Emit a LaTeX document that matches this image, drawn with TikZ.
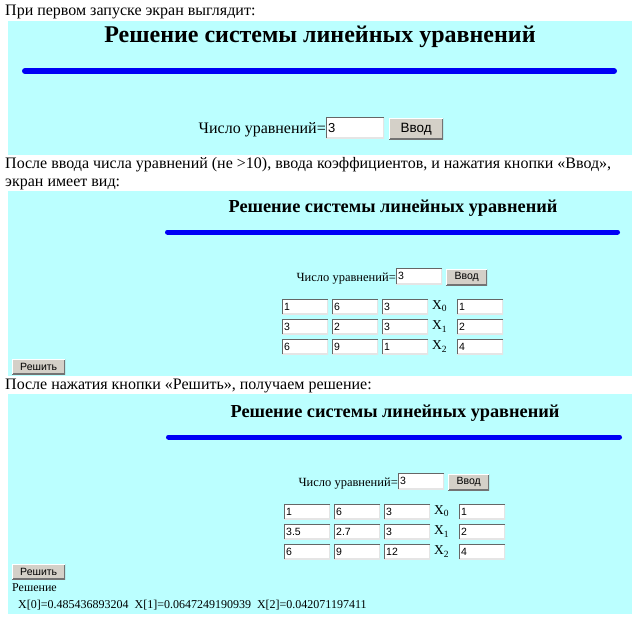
\documentclass[tikz,border=0pt]{standalone}
\usepackage{fontspec}
\setmainfont{Liberation Serif}
\newfontfamily\sansf{Liberation Sans}
\definecolor{panelbg}{RGB}{187,255,255}
\definecolor{btnface}{RGB}{212,208,200}
\definecolor{rulecol}{RGB}{0,0,245}
\tikzset{
  fsz/.style={font=\fontsize{#1}{#1}\selectfont},
  txt/.style={anchor=base west, inner sep=0pt},
  panel/.style={fill=panelbg, anchor=north west, inner sep=0pt},
  bluerule/.style={draw=rulecol, line cap=round},
  inbox/.style={fill=white, inner xsep=2pt, inner ysep=0pt, anchor=north west, align=left,
    path picture={
      \draw[line width=1.5pt, draw=black!10] (path picture bounding box.south west) -| (path picture bounding box.north east);
      \draw[line width=2.5pt, draw=black!60] (path picture bounding box.south west) |- (path picture bounding box.north east);}},
  btn/.style={fill=btnface, inner sep=0pt, anchor=north west,
    path picture={
      \draw[line width=2.5pt, draw=black!55] (path picture bounding box.south west) -| (path picture bounding box.north east);
      \draw[line width=1.5pt, draw=white] (path picture bounding box.south west) |- (path picture bounding box.north east);}},
  gbox/.style={inbox, text width=42pt, minimum height=15pt, font=\sansf\fontsize{10.5}{10.5}\selectfont},
  xlab/.style={anchor=west, inner sep=0pt, font=\fontsize{13.5}{13.5}\selectfont},
}
\newcommand{\xsub}[1]{X\raisebox{-0.35ex}{\fontsize{9.5}{9.5}\selectfont #1}}
\begin{document}
\begin{tikzpicture}[x=1pt,y=-1pt]
\useasboundingbox (0,0) rectangle (639,618);
\fill[white] (0,0) rectangle (639,618);

% intro texts
\node[txt, fsz=16] (t1) at (5,16) {При первом запуске экран выглядит:};
\node[txt, fsz=16] (t2) at (5,168) {После ввода числа уравнений (не >10), ввода коэффициентов, и нажатия кнопки «Ввод»,};
\node[txt, fsz=16] (t3) at (5,186) {экран имеет вид:};
\node[txt, fsz=16] (t4) at (5,389) {После нажатия кнопки «Решить», получаем решение:};

% ---------- panel 1 ----------
\node[panel, minimum width=624pt, minimum height=134pt] (p1) at (8,21) {};
\node[anchor=base, inner sep=0pt, font=\bfseries\fontsize{24}{24}\selectfont] (p1title) at (320,43) {Решение системы линейных уравнений};
\draw[bluerule, line width=6pt] (25,71) -- (614,71);
\node[anchor=base east, inner sep=0pt, fsz=16] (p1lab) at (326,133) {Число уравнений=};
\node[inbox, text width=54pt, minimum height=21pt, font=\sansf\fontsize{13}{13}\selectfont] (p1in) at (326,117) {3};
\node[btn, minimum width=54pt, minimum height=21pt, font=\sansf\fontsize{13.5}{13.5}\selectfont] (p1btn) at (389,118) {Ввод};

% ---------- panel 2 ----------
\node[panel, minimum width=624pt, minimum height=185pt] (p2) at (8,191) {};
\node[anchor=base, inner sep=0pt, font=\bfseries\fontsize{18.3}{18.3}\selectfont] (p2title) at (393,212) {Решение системы линейных уравнений};
\draw[bluerule, line width=5pt] (167.5,232) -- (617.5,232);
\node[anchor=base east, inner sep=0pt, fsz=12.5] (p2lab) at (396,281) {Число уравнений=};
\node[inbox, text width=42pt, minimum height=16pt, font=\sansf\fontsize{10.5}{10.5}\selectfont] (p2in) at (396,268) {3};
\node[btn, minimum width=41pt, minimum height=16pt, font=\sansf\fontsize{10.5}{10.5}\selectfont] (p2btn) at (446,269) {Ввод};
\foreach \r/\y/\a/\b/\c/\d in {0/299/1/6/3/1, 1/319/3/2/3/2, 2/339/6/9/1/4} {
  \node[gbox] (p2a\r) at (282,\y) {\a};
  \node[gbox] (p2b\r) at (332,\y) {\b};
  \node[gbox] (p2c\r) at (382,\y) {\c};
  \node[xlab] (p2x\r) at (432,\y+7.5) {\xsub{\r}};
  \node[gbox] (p2d\r) at (457,\y) {\d};
}
\node[btn, minimum width=53pt, minimum height=15pt, font=\sansf\fontsize{10.5}{10.5}\selectfont] (p2solve) at (12,359) {Решить};

% ---------- panel 3 ----------
\node[panel, minimum width=624pt, minimum height=220pt] (p3) at (8,394) {};
\node[anchor=base, inner sep=0pt, font=\bfseries\fontsize{18.3}{18.3}\selectfont] (p3title) at (395,417) {Решение системы линейных уравнений};
\draw[bluerule, line width=5pt] (168.5,437) -- (619.5,437);
\node[anchor=base east, inner sep=0pt, fsz=12.5] (p3lab) at (398,486) {Число уравнений=};
\node[inbox, text width=42pt, minimum height=16pt, font=\sansf\fontsize{10.5}{10.5}\selectfont] (p3in) at (398,473) {3};
\node[btn, minimum width=41pt, minimum height=16pt, font=\sansf\fontsize{10.5}{10.5}\selectfont] (p3btn) at (448,474) {Ввод};
\foreach \r/\y/\a/\b/\c/\d in {0/504/1/6/3/1, 1/524/3.5/2.7/3/2, 2/544/6/9/12/4} {
  \node[gbox] (p3a\r) at (284,\y) {\a};
  \node[gbox] (p3b\r) at (334,\y) {\b};
  \node[gbox] (p3c\r) at (384,\y) {\c};
  \node[xlab] (p3x\r) at (434,\y+7.5) {\xsub{\r}};
  \node[gbox] (p3d\r) at (459,\y) {\d};
}
\node[btn, minimum width=53pt, minimum height=15pt, font=\sansf\fontsize{10.5}{10.5}\selectfont] (p3solve) at (12,564) {Решить};
\node[txt, fsz=12] (p3res) at (12,591) {Решение};
\node[txt, fsz=12] (p3vals) at (18,608) {X[0]=0.485436893204\ \ X[1]=0.0647249190939\ \ X[2]=0.042071197411};
\end{tikzpicture}
\end{document}
